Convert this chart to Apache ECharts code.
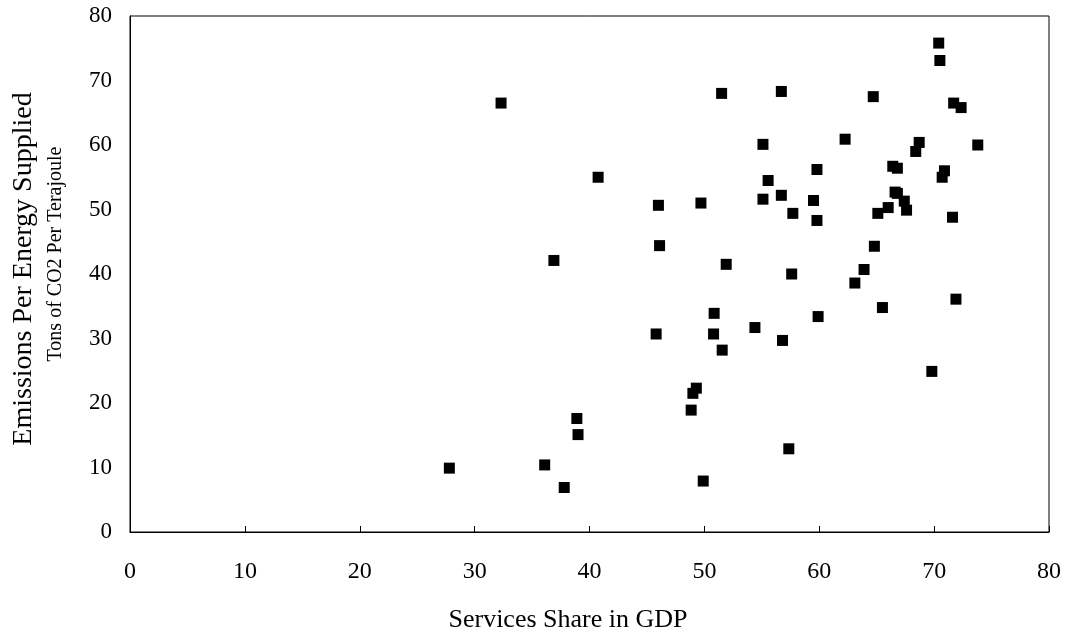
<!DOCTYPE html>
<html><head><meta charset="utf-8">
<script src="https://cdn.jsdelivr.net/npm/echarts@6/dist/echarts.min.js"></script>
<style>html,body{margin:0;padding:0;background:#fff}#c{width:1069px;height:637px}</style>
</head><body><div id="c"></div>
<script>
var servicesShare = [50.85,54.4,45.8,50.8,51.55,49.3,49.0,48.85,38.9,39.0,27.8,36.1,37.8,49.9,57.35,
  71.9,65.5,59.9,56.8,69.8,
  70.4,70.5,51.5,56.7,64.7,71.7,72.35,62.25,55.1,68.7,68.4,73.8,59.8,66.4,66.8,70.9,70.7,55.55,46.0,49.7,55.1,56.7,59.5,57.7,59.8,66.6,66.8,67.4,67.6,66.0,65.1,71.6,46.1,64.8,51.9,63.9,57.6,63.1,
  32.3,40.75,36.9];
var emissions = [33.9,31.7,30.7,30.7,28.2,22.3,21.5,18.9,17.6,15.1,9.9,10.4,6.9,7.9,12.9,
  36.1,34.8,33.4,29.7,24.9,
  75.8,73.1,68.0,68.3,67.5,66.5,65.8,60.9,60.1,60.4,59.0,60.0,56.2,56.7,56.4,56.0,55.0,54.5,50.65,51.0,51.6,52.2,51.4,49.4,48.3,52.7,52.5,51.3,49.9,50.3,49.4,48.8,44.4,44.3,41.5,40.7,40.0,38.6,
  66.5,55.0,42.1];
var xTicks = [0,10,20,30,40,50,60,70,80];
var yTicks = [0,10,20,30,40,50,60,70,80];
var xTitle = 'Services Share in GDP';
var yTitle = 'Emissions Per Energy Supplied';
var ySubtitle = 'Tons of CO2 Per Terajoule';

var pts = servicesShare.map(function(x,i){return [x, emissions[i]];});
var font = '"Liberation Serif", "Times New Roman", serif';
var chart = echarts.init(document.getElementById('c'), null, {renderer:'canvas'});
chart.setOption({
  animation:false,
  backgroundColor:'#fff',
  grid:{left:130,right:20,top:16,bottom:105,show:true,borderColor:'#000',borderWidth:1,backgroundColor:'transparent'},
  xAxis:{type:'value',min:xTicks[0],max:xTicks[xTicks.length-1],interval:10,
    axisLine:{show:true,lineStyle:{color:'#000',width:1}},
    axisTick:{show:true,inside:true,length:6,lineStyle:{color:'#000'}},
    axisLabel:{margin:28,fontFamily:font,fontSize:24,color:'#000'},
    splitLine:{show:false}},
  yAxis:{type:'value',min:yTicks[0],max:yTicks[yTicks.length-1],interval:10,
    axisLine:{show:true,lineStyle:{color:'#000',width:1}},
    axisTick:{show:false},
    axisLabel:{margin:18,fontFamily:font,fontSize:23,color:'#000'},
    splitLine:{show:false}},
  graphic:[
    {type:'text',x:568,y:620,style:{text:xTitle,font:'26px '+font,fill:'#000',align:'center',verticalAlign:'middle'}},
    {type:'text',x:24,y:269,rotation:Math.PI/2,style:{text:yTitle,font:'28px '+font,fill:'#000',align:'center',verticalAlign:'middle'}},
    {type:'text',x:56,y:254,rotation:Math.PI/2,style:{text:ySubtitle,font:'20px '+font,fill:'#000',align:'center',verticalAlign:'middle'}}
  ],
  series:[{type:'scatter',data:pts,symbol:'rect',symbolSize:11,itemStyle:{color:'#000',opacity:1}}]
});
</script></body></html>
